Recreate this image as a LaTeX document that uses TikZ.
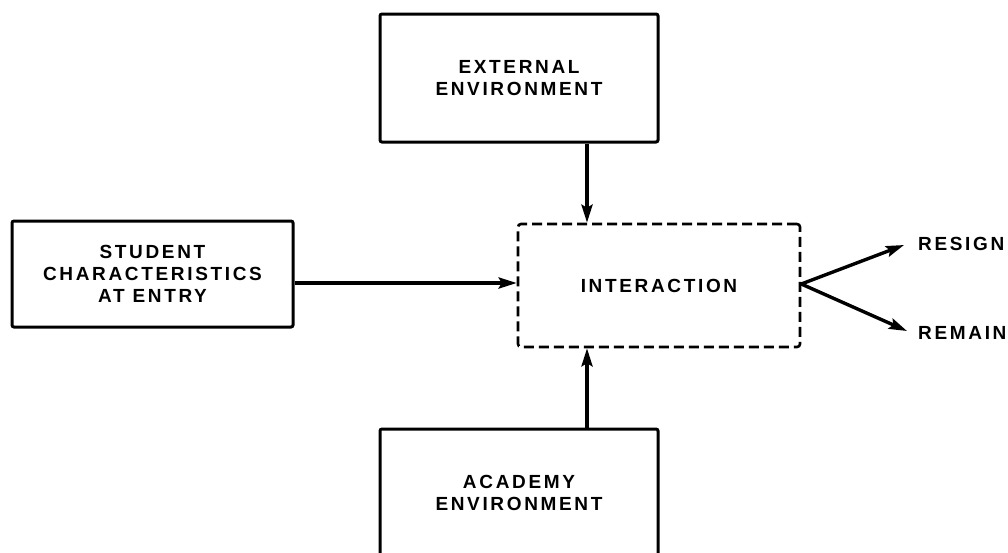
\documentclass[tikz,border=0pt]{standalone}
\usepackage{fontspec}
\setmainfont{Liberation Sans}[LetterSpace=14]
\usetikzlibrary{arrows.meta}
\tikzset{
  box/.style={draw, line width=3pt, rounded corners=2pt, align=center, inner sep=0pt},
  dbox/.style={draw, line width=2.6pt, dash pattern=on 10pt off 5pt, rounded corners=3pt, align=center, inner sep=0pt},
  arr/.style={line width=3.4pt, -{Stealth[length=18pt,width=11pt,inset=3pt]}},
  txt/.style={font=\fontsize{19}{22}\selectfont\bfseries},
  lbl/.style={txt, inner sep=0pt, anchor=west}
}
\begin{document}
\begin{tikzpicture}[x=1pt,y=-1pt]
\useasboundingbox (0,0) rectangle (1008,552);
\clip (0,0) rectangle (1008,552);
\node[box, txt, minimum width=278pt, minimum height=128pt] (ext) at (519,78) {EXTERNAL\\ENVIRONMENT};
\node[box, txt, minimum width=281pt, minimum height=106pt] (stu) at (152.5,274) {STUDENT\\CHARACTERISTICS\\AT ENTRY};
\node[dbox, txt, minimum width=282pt, minimum height=123pt] (int) at (659,285.5) {INTERACTION};
\node[box, txt, minimum width=278pt, minimum height=128pt] (aca) at (519,493) {ACADEMY\\ENVIRONMENT};
\node[lbl] (res) at (918,244) {RESIGN};
\node[lbl] (rem) at (918,333) {REMAIN};
\coordinate (ax) at (587,0);
\draw[arr] (ext.south -| ax) -- (int.north -| ax);
\draw[arr] (aca.north -| ax) -- (int.south -| ax);
\draw[arr] (stu.east |- 0,283) -- (int.west |- 0,283);
\draw[arr] (int.east |- 0,284) -- ([xshift=-14pt,yshift=-1pt]res.west);
\draw[arr] (int.east |- 0,284) -- ([xshift=-11pt,yshift=2pt]rem.west);
\end{tikzpicture}
\end{document}
